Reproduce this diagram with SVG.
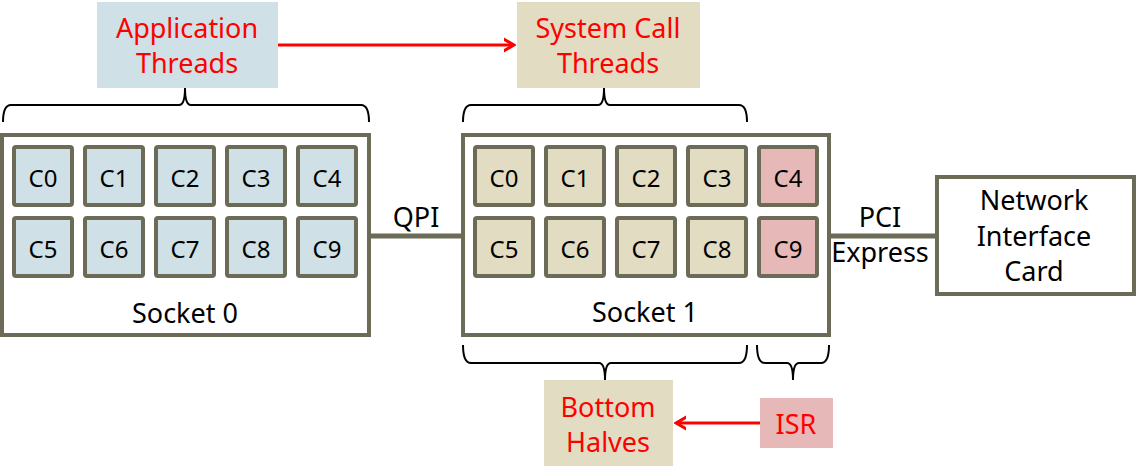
<svg xmlns="http://www.w3.org/2000/svg" width="1138" height="476" viewBox="0 0 1138 476">
<style>
text{font-family:"Noto Sans","Open Sans","Liberation Sans",sans-serif;text-anchor:middle}
.sock{fill:#fff;stroke:#6b6b57;stroke-width:4}
.core{stroke:#6b6b57;stroke-width:4}
.b{fill:#cfe0e6}
.y{fill:#e1dcc2}
.p{fill:#e7b8b8}
.ct{font-size:24px;fill:#000}
.lt{font-size:27px;fill:#000}
.rt{font-size:27px;fill:#ff0000}
.brace{fill:none;stroke:#000;stroke-width:2}
.link{stroke:#6b6b57;stroke-width:5}
.red{stroke:#ff0000;stroke-width:3;fill:none}
</style>
<defs>
<marker id="ah" markerWidth="12" markerHeight="20" refX="10" refY="10" orient="auto" markerUnits="userSpaceOnUse">
<path d="M-4,2 L10,10 L-4,18" fill="none" stroke="#ff0000" stroke-width="3"/>
</marker>
</defs>

<g id="connectors">
<line class="link" x1="371" y1="236" x2="463" y2="236"/>
<line class="link" x1="831" y1="236" x2="937" y2="236"/>
<line class="red" x1="278" y1="45" x2="514" y2="45" marker-end="url(#ah)"/>
<line class="red" x1="760" y1="423" x2="676" y2="423" marker-end="url(#ah)"/>
<path class="brace" d="M3,122 Q3,105 11,105 H179 Q185,105 185,88 Q185,105 191,105 H361 Q369,105 369,122"/>
<path class="brace" d="M463,122 Q463,105 471,105 H598 Q604,105 604,88 Q604,105 610,105 H739 Q747,105 747,122"/>
<path class="brace" d="M463,345 Q463,363 471,363 H599 Q605,363 605,380 Q605,363 611,363 H739 Q747,363 747,345"/>
<path class="brace" d="M757,345 Q757,363 765,363 H787 Q793,363 793,380 Q793,363 799,363 H821 Q829,363 829,345"/>
<text class="lt" x="416" y="227">QPI</text>
<text class="lt" x="880" y="227">PCI</text>
<text class="lt" x="880" y="262">Express</text>
</g>

<g id="app-threads">
<rect x="97" y="2" width="181" height="86" class="b"/>
<text class="rt" x="187" y="38">Application</text>
<text class="rt" x="187" y="73">Threads</text>
</g>

<g id="syscall-threads">
<rect x="517" y="2" width="183" height="86" class="y"/>
<text class="rt" x="608" y="38">System Call</text>
<text class="rt" x="608" y="73">Threads</text>
</g>

<g id="socket0">
<rect class="sock" x="2" y="135" width="367" height="200"/>
<g class="core b">
<rect x="14" y="147" width="58" height="58" rx="2"/>
<rect x="85" y="147" width="58" height="58" rx="2"/>
<rect x="156" y="147" width="58" height="58" rx="2"/>
<rect x="227" y="147" width="58" height="58" rx="2"/>
<rect x="298" y="147" width="58" height="58" rx="2"/>
<rect x="14" y="218" width="58" height="58" rx="2"/>
<rect x="85" y="218" width="58" height="58" rx="2"/>
<rect x="156" y="218" width="58" height="58" rx="2"/>
<rect x="227" y="218" width="58" height="58" rx="2"/>
<rect x="298" y="218" width="58" height="58" rx="2"/>
</g>
<g class="ct">
<text x="43" y="187">C0</text><text x="114" y="187">C1</text><text x="185" y="187">C2</text><text x="256" y="187">C3</text><text x="327" y="187">C4</text>
<text x="43" y="258">C5</text><text x="114" y="258">C6</text><text x="185" y="258">C7</text><text x="256" y="258">C8</text><text x="327" y="258">C9</text>
</g>
<text class="lt" x="185" y="323">Socket 0</text>
</g>

<g id="socket1">
<rect class="sock" x="463" y="135" width="366" height="200"/>
<g class="core y">
<rect x="475" y="147" width="58" height="58" rx="2"/>
<rect x="546" y="147" width="58" height="58" rx="2"/>
<rect x="617" y="147" width="58" height="58" rx="2"/>
<rect x="688" y="147" width="58" height="58" rx="2"/>
<rect x="475" y="218" width="58" height="58" rx="2"/>
<rect x="546" y="218" width="58" height="58" rx="2"/>
<rect x="617" y="218" width="58" height="58" rx="2"/>
<rect x="688" y="218" width="58" height="58" rx="2"/>
</g>
<g class="core p">
<rect x="759" y="147" width="58" height="58" rx="2"/>
<rect x="759" y="218" width="58" height="58" rx="2"/>
</g>
<g class="ct">
<text x="504" y="187">C0</text><text x="575" y="187">C1</text><text x="646" y="187">C2</text><text x="717" y="187">C3</text><text x="788" y="187">C4</text>
<text x="504" y="258">C5</text><text x="575" y="258">C6</text><text x="646" y="258">C7</text><text x="717" y="258">C8</text><text x="788" y="258">C9</text>
</g>
<text class="lt" x="645" y="322">Socket 1</text>
</g>

<g id="nic">
<rect class="sock" x="937" y="177" width="197" height="117"/>
<text class="lt" x="1034" y="210">Network</text>
<text class="lt" x="1034" y="246">Interface</text>
<text class="lt" x="1034" y="281">Card</text>
</g>

<g id="bottom-halves">
<rect x="544" y="380" width="129" height="86" class="y"/>
<text class="rt" x="608" y="417">Bottom</text>
<text class="rt" x="608" y="452">Halves</text>
</g>

<g id="isr">
<rect x="760" y="398" width="73" height="50" class="p"/>
<text class="rt" x="796" y="434">ISR</text>
</g>
</svg>
